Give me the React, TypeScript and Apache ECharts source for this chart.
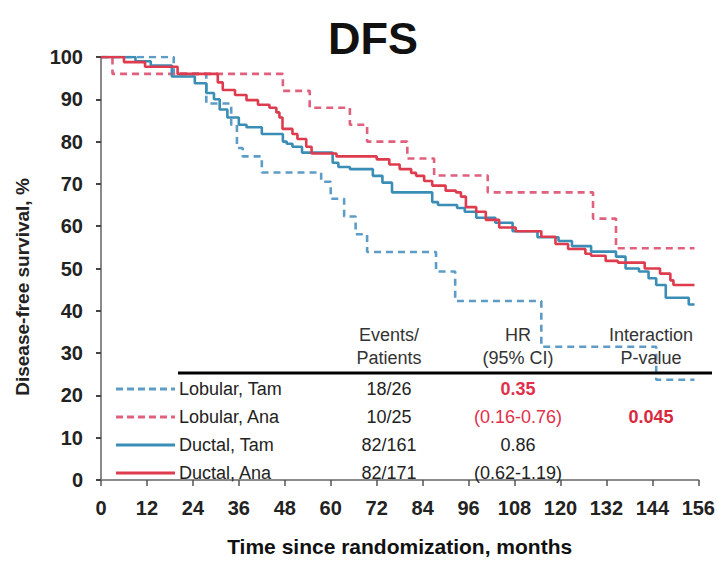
import React, { useEffect, useRef } from "react";
import * as echarts from "echarts";

// ---- Data ----
const seriesNames = ["Lobular, Tam", "Lobular, Ana", "Ductal, Tam", "Ductal, Ana"];

const lobularTamMonths = [0, 19, 27.5, 34, 35.5, 37, 42, 57.5, 60, 63.5, 66.5, 69.5, 87.5, 92.5, 115, 145, 155];
const lobularTamSurv = [100, 96, 89, 84, 78.5, 76.5, 72.7, 70.5, 66.5, 62.3, 58.1, 53.9, 49.3, 42.3, 31.5, 23.7, 23.7];

const lobularAnaMonths = [0, 3, 47.5, 54.5, 65, 69.5, 80, 87, 101, 128.5, 134.5, 155];
const lobularAnaSurv = [100, 96, 92, 88, 84, 80, 76, 72, 68, 61.8, 54.8, 54.8];

const ductalTamMonths = [0, 9, 13, 18.5, 24.5, 27.5, 29.5, 31, 33, 36, 38, 42, 47.5, 48.5, 50, 52.5, 60.5, 62, 65, 71, 73.5, 76, 86.5, 88, 93, 95, 98, 103, 107.5, 114, 119.5, 123, 128, 134.5, 137, 140.5, 143, 145, 147.5, 153.5, 155];
const ductalTamSurv = [100, 99, 98, 95.4, 93.8, 91.5, 90, 87.6, 85.7, 84, 83.4, 81.8, 80, 79.5, 78.8, 77.4, 75, 74, 73.5, 71.9, 70.3, 68, 65.7, 65, 64.3, 63.4, 62, 60.8, 58.8, 57.4, 56.5, 55.3, 54, 52.8, 50, 49.3, 47.7, 46.1, 43.1, 41.5, 41.5];

const ductalAnaMonths = [0, 6, 11.5, 20, 30.5, 31.8, 35, 38, 41, 44, 45.8, 46.6, 47.4, 50, 51.3, 53.6, 55, 61.5, 72, 75.3, 78, 81, 82.3, 84.4, 86.5, 90, 92.7, 94, 95.3, 98, 100.5, 104, 108.3, 115, 118.7, 122, 126.5, 128, 131.8, 135, 142, 146, 148.7, 149.5, 155];
const ductalAnaSurv = [100, 98.8, 97.7, 96, 94, 92.2, 91, 89.8, 88.7, 88, 86.9, 85.7, 83, 81.8, 80.6, 78.8, 77.2, 76.5, 75.8, 74.6, 73.5, 72.6, 71.9, 70.7, 69.6, 68.4, 68, 67, 64.5, 63.4, 61.5, 59.7, 58.8, 57.5, 55.8, 54.6, 53.5, 53, 51.8, 51.4, 50, 48.8, 47.2, 46.1, 46.1];

// Table content
const tableHeaders = [["Events/", "Patients"], ["HR", "(95% CI)"], ["Interaction", "P-value"]];
const eventsPatients = ["18/26", "10/25", "82/161", "82/171"];
const hrText = ["0.35", "(0.16-0.76)", "0.86", "(0.62-1.19)"];
const hrHighlight = [true, true, false, false];
const pValueText = ["", "0.045", "", ""];

const seriesColors = ["#5d9cc6", "#e0607e", "#3a8db5", "#de3b4e"];
const seriesDashed = [true, true, false, false];

const FONT = "'Liberation Sans', Arial, sans-serif";

function zip(m: number[], s: number[]) {
  return m.map((v, i) => [v, s[i]]);
}

export default function App() {
  const ref = useRef<HTMLDivElement>(null);

  useEffect(() => {
    if (!ref.current) return;
    const chart = echarts.init(ref.current, null, { renderer: "svg" });

    const allData = [
      zip(lobularTamMonths, lobularTamSurv),
      zip(lobularAnaMonths, lobularAnaSurv),
      zip(ductalTamMonths, ductalTamSurv),
      zip(ductalAnaMonths, ductalAnaSurv),
    ];

    const series = allData.map((d, i) => ({
      name: seriesNames[i],
      type: "line",
      step: "end",
      data: d,
      symbol: "none",
      z: 2 + i,
      lineStyle: {
        color: seriesColors[i],
        width: 2.6,
        type: seriesDashed[i] ? [7, 5] : "solid",
      },
      itemStyle: { color: seriesColors[i] },
    }));

    const rowY = [389, 417, 445, 473];
    const colLabelX = 179;
    const colEventsX = 389;
    const colHrX = 518;
    const colPX = 651;
    const headerY = [335, 358];

    const txt = (text: string, x: number, y: number, opts: any = {}) => ({
      type: "text",
      x,
      y,
      z: 100,
      style: {
        text,
        fill: opts.fill || "#222",
        font: `${opts.weight || "normal"} ${opts.size || 18}px ${FONT}`,
        align: opts.align || "center",
        textAlign: opts.align || "center",
        verticalAlign: "middle",
        textVerticalAlign: "middle",
      },
    });

    const graphics: any[] = [];
    graphics.push(txt("DFS", 373, 38, { size: 45, weight: "bold", fill: "#111" }));
    graphics.push({
      type: "text",
      x: 22,
      y: 287,
      rotation: Math.PI / 2,
      z: 100,
      style: {
        text: "Disease-free survival, %",
        fill: "#222",
        font: `bold 19px ${FONT}`,
        align: "center",
        textAlign: "center",
        verticalAlign: "middle",
        textVerticalAlign: "middle",
      },
    });
    const headerX = [colEventsX, colHrX, colPX];
    tableHeaders.forEach((h, c) => {
      h.forEach((line, r) => graphics.push(txt(line, headerX[c], headerY[r], { fill: "#333" })));
    });
    graphics.push({
      type: "line",
      z: 100,
      shape: { x1: 178, y1: 373, x2: 712, y2: 373 },
      style: { stroke: "#000", lineWidth: 3 },
    });
    seriesNames.forEach((name, i) => {
      const y = rowY[i];
      graphics.push({
        type: "line",
        z: 100,
        shape: { x1: 116, y1: y, x2: 175, y2: y },
        style: {
          stroke: seriesColors[i],
          lineWidth: 2.8,
          lineDash: seriesDashed[i] ? [7, 4] : null,
        },
      });
      graphics.push(txt(name, colLabelX, y, { align: "left" }));
      graphics.push(txt(eventsPatients[i], colEventsX, y));
      graphics.push(
        txt(hrText[i], colHrX, y, {
          fill: hrHighlight[i] ? "#e0304a" : "#222",
          weight: hrHighlight[i] && i === 0 ? "bold" : "normal",
        })
      );
      if (pValueText[i]) {
        graphics.push(txt(pValueText[i], colPX, y, { fill: "#d8283e", weight: "bold" }));
      }
    });

    chart.setOption({
      animation: false,
      backgroundColor: "#fff",
      grid: { left: 101, right: 18, top: 57, bottom: 70, containLabel: false },
      xAxis: {
        type: "value",
        min: 0,
        max: 156,
        interval: 12,
        name: "Time since randomization, months",
        nameLocation: "middle",
        nameGap: 56,
        nameTextStyle: { fontFamily: FONT, fontSize: 21, fontWeight: "bold", color: "#111" },
        axisLine: { show: true, lineStyle: { color: "#8a8a8a", width: 2 } },
        axisTick: { show: true, length: 6, lineStyle: { color: "#555", width: 1.5 } },
        axisLabel: { fontFamily: FONT, fontSize: 20, fontWeight: "bold", color: "#222", margin: 18 },
        splitLine: { show: false },
      },
      yAxis: {
        type: "value",
        min: 0,
        max: 100,
        interval: 10,
        axisLine: { show: true, lineStyle: { color: "#8a8a8a", width: 2 } },
        axisTick: { show: true, length: 5, lineStyle: { color: "#444", width: 2 } },
        axisLabel: { fontFamily: FONT, fontSize: 20, fontWeight: "bold", color: "#222", margin: 18 },
        splitLine: { show: false },
      },
      series,
      graphic: { elements: graphics },
    });

    return () => chart.dispose();
  }, []);

  return (
    <div
      ref={ref}
      style={{ position: "absolute", left: 0, top: 0, width: 718, height: 562 }}
    />
  );
}
